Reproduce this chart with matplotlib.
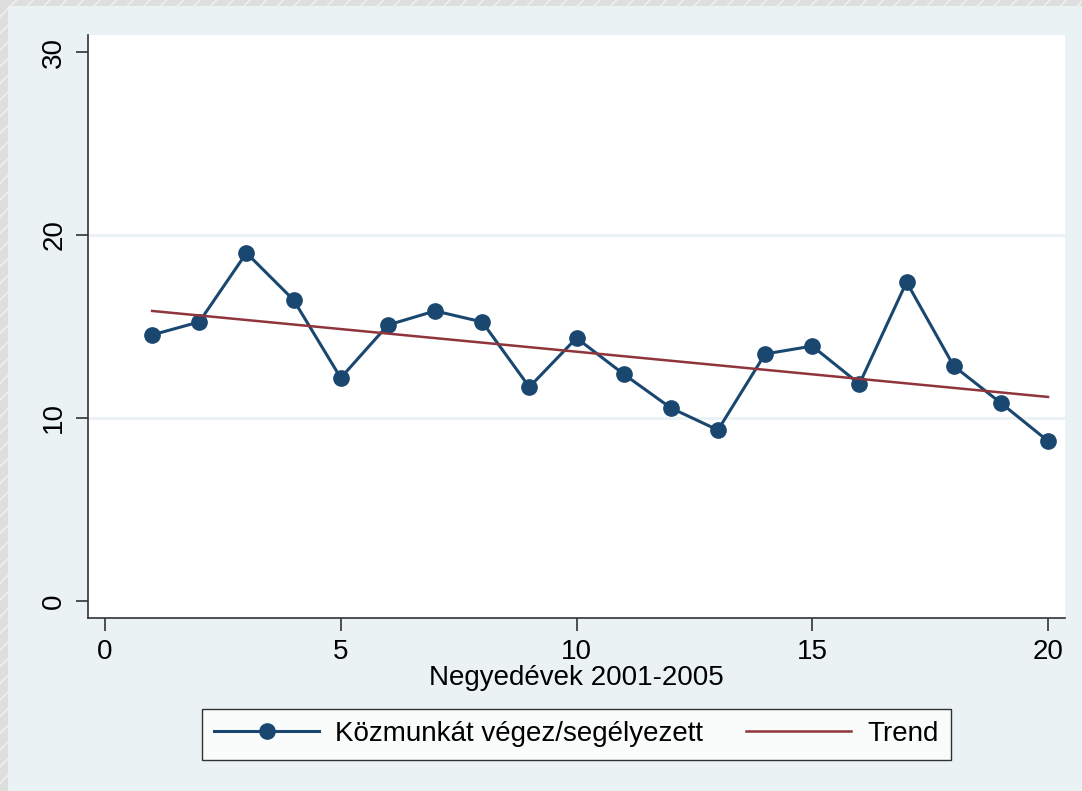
import matplotlib
matplotlib.use("Agg")
import matplotlib.pyplot as plt
from matplotlib.patches import Rectangle

# quarterly share, 2001-2005
quarters = list(range(1, 21))
values = [14.54, 15.25, 19.02, 16.45, 12.19, 15.08, 15.85, 15.25, 11.69, 14.37,
          12.40, 10.55, 9.34, 13.50, 13.93, 11.86, 17.43, 12.84, 10.82, 8.74]
trend_x = [1, 20]
trend_y = [15.85, 11.15]

xticks = [0, 5, 10, 15, 20]
yticks = [0, 10, 20, 30]

plt.rcParams['font.family'] = ['Liberation Sans', 'DejaVu Sans']

navy = '#1a476f'
maroon = '#90353b'
bg = '#eaf2f3'

fig = plt.figure(figsize=(10.82, 7.91), dpi=100)
fig.patch.set_facecolor('#dcdcdc')

# hatched outer frame + light background
fig.patches.append(Rectangle((0, 0), 1, 1, transform=fig.transFigure,
                             facecolor='#dedede', edgecolor='#f2f2f2',
                             hatch='//', linewidth=0, zorder=-3))
fig.patches.append(Rectangle((8 / 1082, 0), 1, 1 - 6 / 791, transform=fig.transFigure,
                             facecolor=bg, edgecolor='none', zorder=-2))

ax = fig.add_axes([88 / 1082, 1 - 618 / 791, (1065 - 88) / 1082, (618 - 35) / 791])
ax.set_facecolor('white')

for g in [10, 20]:
    ax.axhline(g, color=bg, linewidth=2, zorder=0)

ax.plot(quarters, values, color=navy, linewidth=2.2, marker='o', markersize=11,
        label='Közmunkát végez/segélyezett', zorder=3)
ax.plot(trend_x, trend_y, color=maroon, linewidth=1.8, label='Trend', zorder=4)

ax.set_xlim(-0.36, 20.36)
ax.set_ylim(-0.93, 30.93)
ax.set_xticks(xticks)
ax.set_yticks(yticks)
ax.tick_params(axis='both', direction='out', length=9, width=1.2,
               color='#333333', labelsize=20, pad=6)
for lab in ax.get_yticklabels():
    lab.set_rotation(90)
    lab.set_va('center')

for s in ['top', 'right']:
    ax.spines[s].set_visible(False)
for s in ['left', 'bottom']:
    ax.spines[s].set_color('#333333')
    ax.spines[s].set_linewidth(1.2)

ax.set_xlabel('Negyedévek 2001-2005', fontsize=20, labelpad=0)

leg = fig.legend(loc='center', bbox_to_anchor=(576.5 / 1082, 1 - 734 / 791), ncol=2,
                 fontsize=20, frameon=True, fancybox=False, handlelength=3.75,
                 columnspacing=1.55, handletextpad=0.6, borderpad=0.45)
leg.get_frame().set_edgecolor('black')
leg.get_frame().set_linewidth(1)

fig.savefig('out.png', dpi=100, facecolor=fig.get_facecolor())
